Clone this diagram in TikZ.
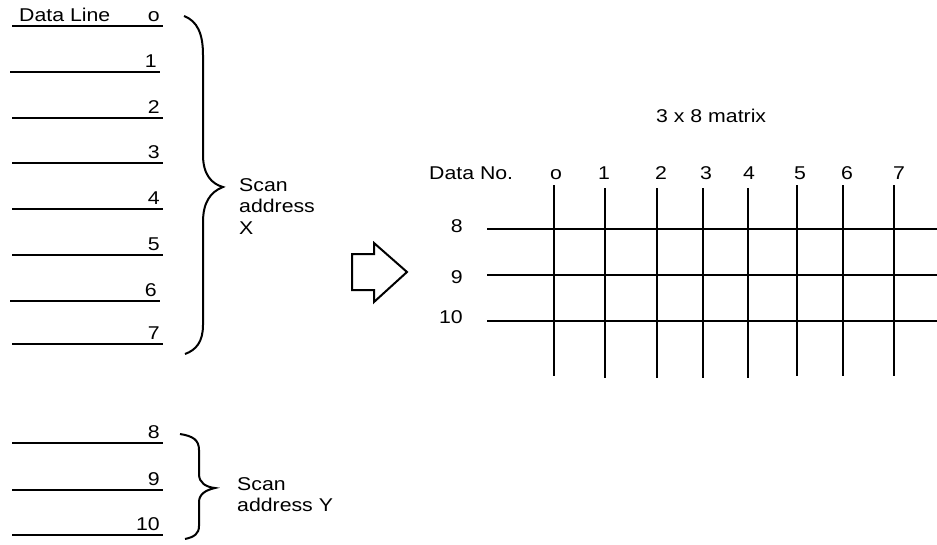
\documentclass[tikz,border=0pt]{standalone}
\usepackage{fontspec}
\setmainfont{Liberation Sans}[FakeStretch=1.15]
\begin{document}
\begin{tikzpicture}[x=1pt,y=-1pt,
  stroke/.style={line width=2pt,line cap=butt},
  lbl/.style={inner sep=0pt,font=\fontsize{18.5}{21.5}\selectfont},
  rlbl/.style={lbl,anchor=base east},
  clbl/.style={lbl,anchor=base},
  multi/.style={lbl,align=left,anchor=north west}]
\useasboundingbox (0,0) rectangle (937,544);

% ---- individual data lines (address X) ----
\foreach \y/\a/\b/\t [count=\i] in {26/12/163/o, 72/10/160/1, 118/12/163/2, 163/12/163/3,
                                    209/12/163/4, 255/12/163/5, 301/10/160/6, 344/12/163/7} {
  \draw[stroke] (\a,\y) -- (\b,\y);
  \node[rlbl] (dl\i) at (\b-3,\y-5) {\t};
}
\node[lbl,anchor=base west] (dlcap) at (19,21) {Data Line};

% ---- data lines for address Y ----
\foreach \y/\t [count=\i] in {443/8, 490/9, 535/10} {
  \draw[stroke] (12,\y) -- (163,\y);
  \node[rlbl] (yl\i) at (160,\y-5) {\t};
}

% ---- braces ----
\draw[stroke] (184,16) .. controls (197,21) and (203,33) .. (203,55) -- (203,155)
  .. controls (203,175) and (212,184) .. (223,187)
  .. controls (210,192) and (203,203) .. (203,222) -- (203,325)
  .. controls (203,342) and (196,350) .. (185,354);
\node[multi] (scanx) at (239,178) {Scan\\address\\X};

\draw[stroke] (180,434) .. controls (193,436) and (199,440) .. (199,450) -- (199,474)
  .. controls (199,483) and (206,487) .. (215,488)
  .. controls (206,490) and (199,494) .. (199,502) -- (199,526)
  .. controls (199,534) and (194,537) .. (185,539);
\node[multi] (scany) at (237,477) {Scan\\address Y};

% ---- hollow arrow ----
\draw[stroke,line join=miter] (352,254) -- (374,254) -- (374,243) -- (407,272)
  -- (374,302) -- (374,290) -- (352,290) -- cycle;

% ---- matrix ----
\node[lbl,anchor=base west] (title) at (656,122) {3 x 8 matrix};
\node[lbl,anchor=base west] (datano) at (429,179) {Data No.};

\foreach \x/\lx/\t/\top/\bot [count=\i] in {554/556/o/185/376, 605/604/1/188/378, 657/661/2/188/378,
     703/706/3/188/378, 748/749/4/188/378, 797/800/5/185/376, 843/847/6/185/376, 894/899/7/185/376} {
  \draw[stroke] (\x,\top) -- (\x,\bot);
  \node[clbl] (col\i) at (\lx,179) {\t};
}
\foreach \y/\b/\t [count=\i] in {229/232/8, 275/283/9, 321/323/10} {
  \draw[stroke] (487,\y) -- (937,\y);
  \node[rlbl] (row\i) at (463,\b) {\t};
}
\end{tikzpicture}
\end{document}
